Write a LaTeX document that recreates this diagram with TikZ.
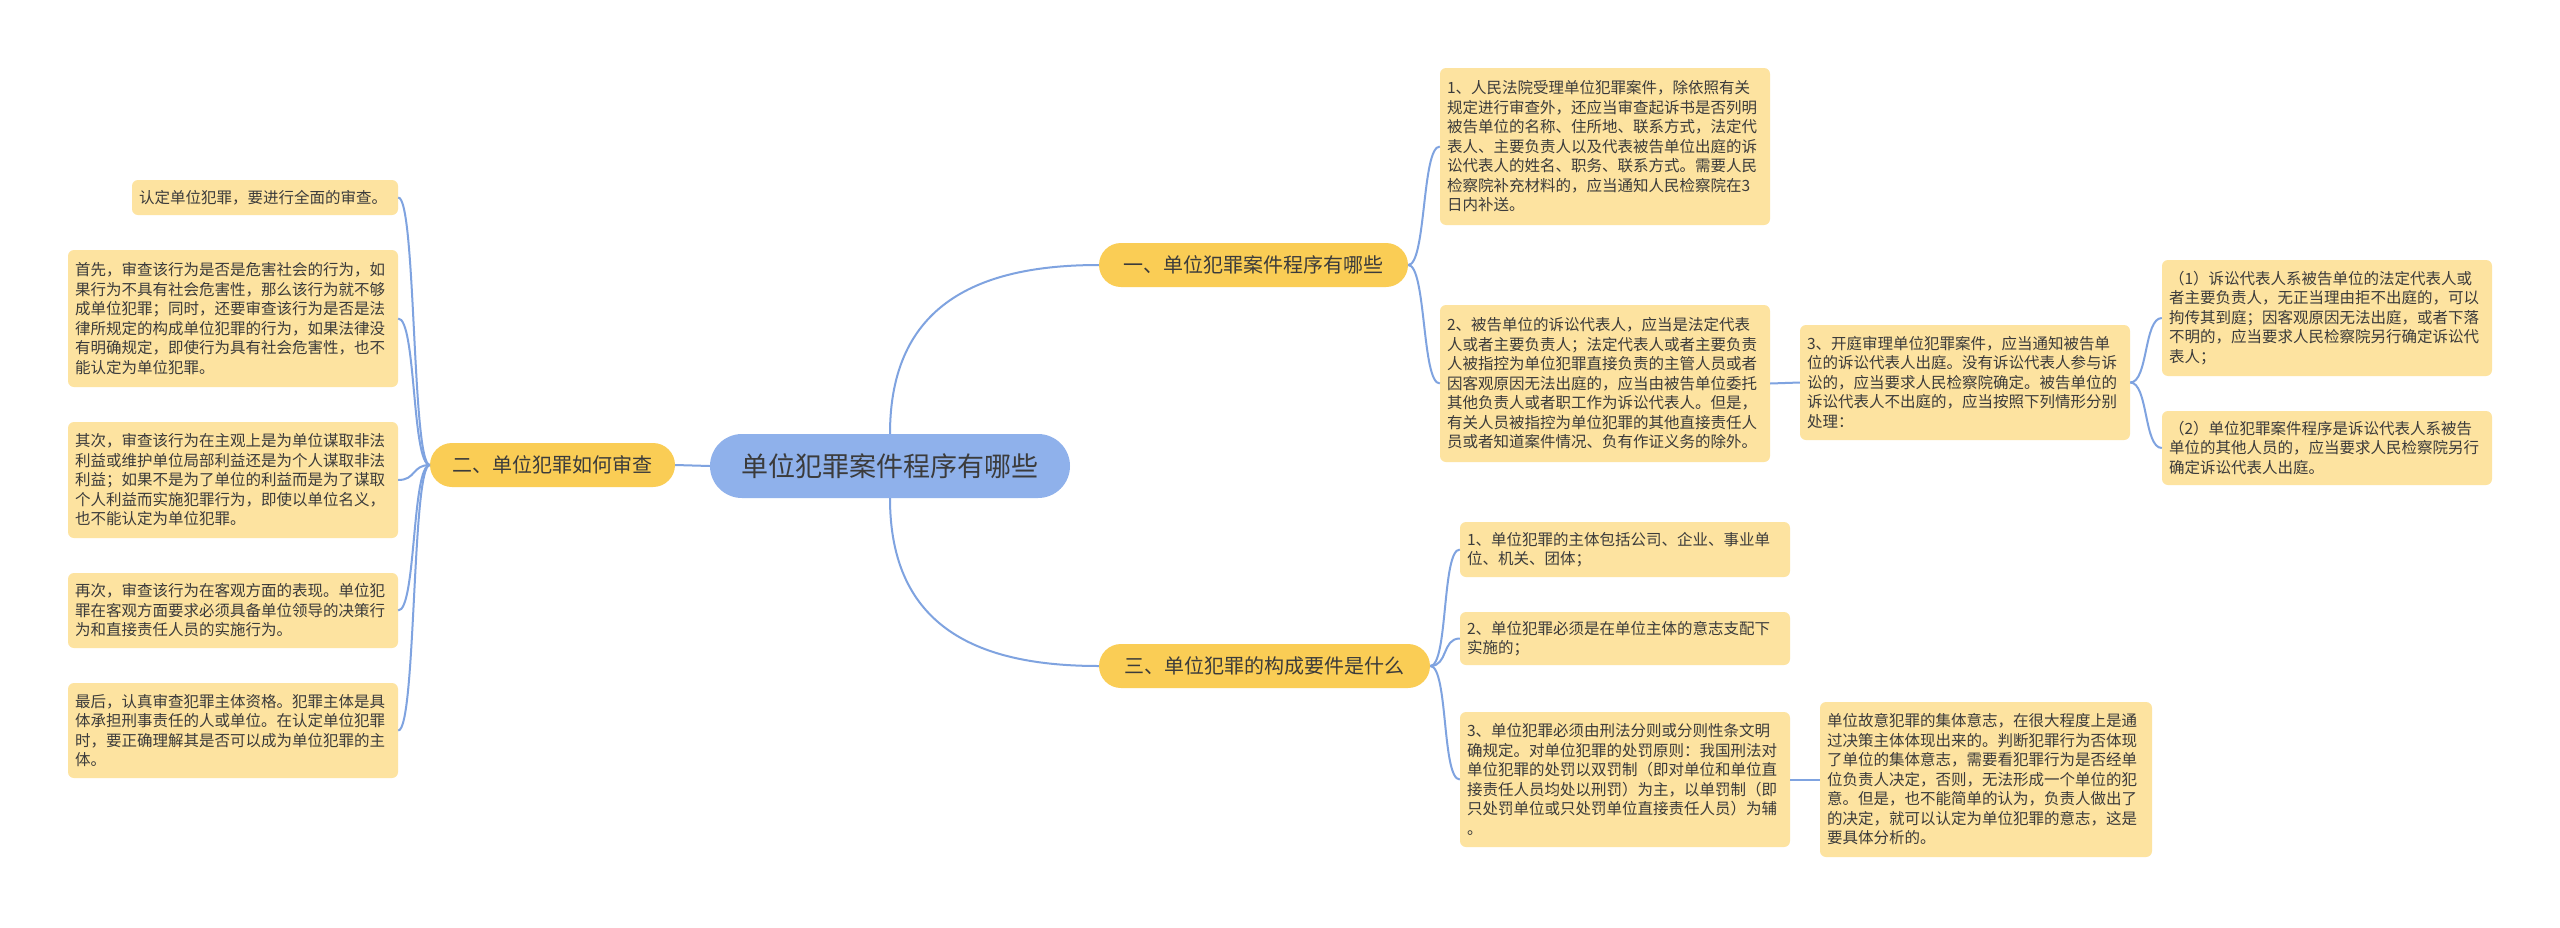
\documentclass[tikz,border=0pt]{standalone}
\usepackage{fontspec}
\newfontfamily\cjk{Noto Sans CJK SC}
\XeTeXlinebreaklocale "zh"
\XeTeXlinebreakskip = 0pt plus 1pt
\definecolor{leafc}{HTML}{FDE3A0}
\definecolor{branchc}{HTML}{FACD55}
\definecolor{rootc}{HTML}{8FB1EB}
\definecolor{linec}{HTML}{7FA3E0}
\definecolor{txt}{HTML}{3B3B3B}
\begin{document}
\begin{tikzpicture}[x=1pt,y=-1pt,
  leaf/.style={fill=leafc, rounded corners=6pt, inner xsep=7pt, inner ysep=0pt,
    text width=316pt, align=left, text=txt,
    font=\cjk\fontsize{15.5}{19.5}\selectfont},
  pill/.style={fill=branchc, rounded corners=22pt, inner sep=0pt, text=txt,
    minimum height=44pt, font=\cjk\fontsize{20}{24}\selectfont},
  rootnode/.style={fill=rootc, rounded corners=32pt, inner sep=0pt, text=txt,
    minimum height=64pt, minimum width=360pt, font=\cjk\fontsize{27}{32}\selectfont},
  conn/.style={draw=linec, line width=2pt}]
\useasboundingbox[fill=white] (0,0) rectangle (2560,927);

% root and branches
\node[rootnode] (root) at (890,466) {单位犯罪案件程序有哪些};
\node[pill, minimum width=309pt] (b1) at (1253.5,265) {一、单位犯罪案件程序有哪些};
\node[pill, minimum width=331pt] (b3) at (1264.5,666) {三、单位犯罪的构成要件是什么};
\node[pill, minimum width=245pt] (b2) at (552.5,465) {二、单位犯罪如何审查};

% branch 1 leaves
\node[leaf, minimum height=157pt] (l1) at (1605,146.5) {1、人民法院受理单位犯罪案件，除依照有关\\规定进行审查外，还应当审查起诉书是否列明\\被告单位的名称、住所地、联系方式，法定代\\表人、主要负责人以及代表被告单位出庭的诉\\讼代表人的姓名、职务、联系方式。需要人民\\检察院补充材料的，应当通知人民检察院在3\\日内补送。};
\node[leaf, minimum height=157pt] (l2) at (1605,383.5) {2、被告单位的诉讼代表人，应当是法定代表\\人或者主要负责人；法定代表人或者主要负责\\人被指控为单位犯罪直接负责的主管人员或者\\因客观原因无法出庭的，应当由被告单位委托\\其他负责人或者职工作为诉讼代表人。但是，\\有关人员被指控为单位犯罪的其他直接责任人\\员或者知道案件情况、负有作证义务的除外。};
\node[leaf, minimum height=115pt] (l3) at (1965,382.5) {3、开庭审理单位犯罪案件，应当通知被告单\\位的诉讼代表人出庭。没有诉讼代表人参与诉\\讼的，应当要求人民检察院确定。被告单位的\\诉讼代表人不出庭的，应当按照下列情形分别\\处理：};
\node[leaf, minimum height=116pt] (l3a) at (2327,318) {（1）诉讼代表人系被告单位的法定代表人或\\者主要负责人，无正当理由拒不出庭的，可以\\拘传其到庭；因客观原因无法出庭，或者下落\\不明的，应当要求人民检察院另行确定诉讼代\\表人；};
\node[leaf, minimum height=74pt] (l3b) at (2327,448) {（2）单位犯罪案件程序是诉讼代表人系被告\\单位的其他人员的，应当要求人民检察院另行\\确定诉讼代表人出庭。};

% branch 3 leaves
\node[leaf, minimum height=55pt] (m1) at (1625,549.5) {1、单位犯罪的主体包括公司、企业、事业单\\位、机关、团体；};
\node[leaf, minimum height=53pt] (m2) at (1625,638.5) {2、单位犯罪必须是在单位主体的意志支配下\\实施的；};
\node[leaf, minimum height=135pt] (m3) at (1625,779.5) {3、单位犯罪必须由刑法分则或分则性条文明\\确规定。对单位犯罪的处罚原则：我国刑法对\\单位犯罪的处罚以双罚制（即对单位和单位直\\接责任人员均处以刑罚）为主，以单罚制（即\\只处罚单位或只处罚单位直接责任人员）为辅\\。};
\node[leaf, minimum height=155pt, text width=318pt] (m3a) at (1986,779.5) {单位故意犯罪的集体意志，在很大程度上是通\\过决策主体体现出来的。判断犯罪行为否体现\\了单位的集体意志，需要看犯罪行为是否经单\\位负责人决定，否则，无法形成一个单位的犯\\意。但是，也不能简单的认为，负责人做出了\\的决定，就可以认定为单位犯罪的意志，这是\\要具体分析的。};

% branch 2 leaves
\node[leaf, minimum height=35pt, text width=252pt] (n1) at (265,197.5) {认定单位犯罪，要进行全面的审查。};
\node[leaf, minimum height=137pt] (n2) at (233,318.5) {首先，审查该行为是否是危害社会的行为，如\\果行为不具有社会危害性，那么该行为就不够\\成单位犯罪；同时，还要审查该行为是否是法\\律所规定的构成单位犯罪的行为，如果法律没\\有明确规定，即使行为具有社会危害性，也不\\能认定为单位犯罪。};
\node[leaf, minimum height=116pt] (n3) at (233,480) {其次，审查该行为在主观上是为单位谋取非法\\利益或维护单位局部利益还是为个人谋取非法\\利益；如果不是为了单位的利益而是为了谋取\\个人利益而实施犯罪行为，即使以单位名义，\\也不能认定为单位犯罪。};
\node[leaf, minimum height=75pt] (n4) at (233,610.5) {再次，审查该行为在客观方面的表现。单位犯\\罪在客观方面要求必须具备单位领导的决策行\\为和直接责任人员的实施行为。};
\node[leaf, minimum height=95pt] (n5) at (233,730.5) {最后，认真审查犯罪主体资格。犯罪主体是具\\体承担刑事责任的人或单位。在认定单位犯罪\\时，要正确理解其是否可以成为单位犯罪的主\\体。};

% connectors
\begin{scope}[on background layer/.style={}]
\draw[conn] (root.north) .. controls +(0,-130) and +(-120,0) .. (b1.west);
\draw[conn] (root.south) .. controls +(0,130) and +(-120,0) .. (b3.west);
\draw[conn] (root.west) -- (b2.east);

\foreach \c in {l1,l2}
  \draw[conn] (b1.east) .. controls +(18,0) and +(-18,0) .. (\c.west);
\draw[conn] (l2.east) -- (l3.west);
\foreach \c in {l3a,l3b}
  \draw[conn] (l3.east) .. controls +(18,0) and +(-18,0) .. (\c.west);

\foreach \c in {m1,m2,m3}
  \draw[conn] (b3.east) .. controls +(18,0) and +(-18,0) .. (\c.west);
\draw[conn] (m3.east) -- (m3a.west);

\foreach \c in {n1,n2,n3,n4,n5}
  \draw[conn] (b2.west) .. controls +(-18,0) and +(18,0) .. (\c.east);
\end{scope}
\end{tikzpicture}
\end{document}
